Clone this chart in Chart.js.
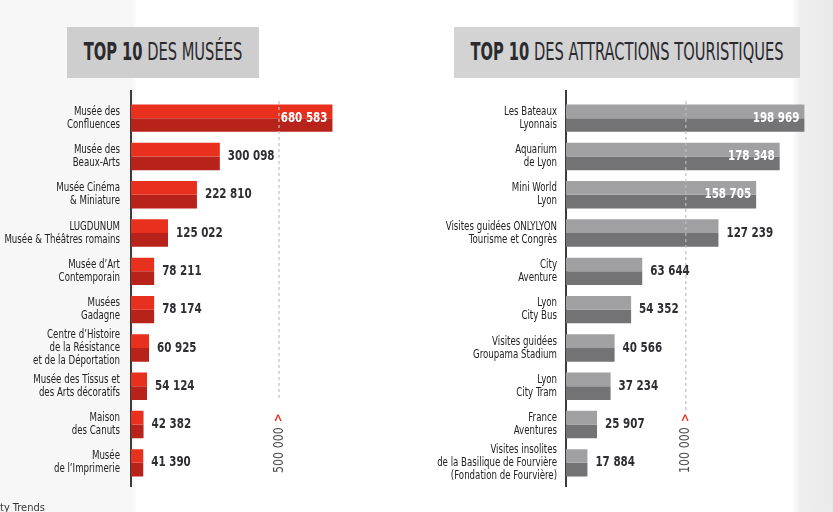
<!DOCTYPE html>
<html>
<head>
<meta charset="utf-8">
<script src="https://cdn.jsdelivr.net/npm/chart.js@4/dist/chart.umd.min.js"></script>
<style>
  html, body { margin: 0; padding: 0; }
  body {
    width: 833px; height: 512px; position: relative; overflow: hidden;
    background: linear-gradient(to right, #f7f7f7 0px, #f7f7f7 134px, #ffffff 136px, #ffffff 792px, #efefef 800px, #e9e9e9 833px);
    font-family: "DejaVu Sans Condensed", sans-serif;
  }
  .title {
    position: absolute; top: 27px; height: 51px; line-height: 51px;
    color: #2a2a2f; font-size: 24px; white-space: nowrap;
  }
  .title span.inner {
    position: absolute; left: 50%; top: 0;
    transform: translateX(-50%) scaleX(0.68);
  }
  .title b { font-weight: bold; }
  #t1 { left: 67px; width: 192px; background: #cecece; }
  #t2 { left: 454px; width: 346px; background: #d3d3d3; }
  .chart { position: absolute; top: 0; height: 512px; }
  #c1wrap { left: 0; width: 420px; }
  #c2wrap { left: 420px; width: 413px; }
  #source { position: absolute; left: 0; top: 501px; font-size: 11px; color: #333; }
</style>
</head>
<body>
<div class="title" id="t1"><span class="inner"><b>TOP 10</b> DES MUSÉES</span></div>
<div class="title" id="t2"><span class="inner"><b>TOP 10</b> DES ATTRACTIONS TOURISTIQUES</span></div>
<div class="chart" id="c1wrap"><canvas id="museesChart"></canvas></div>
<div class="chart" id="c2wrap"><canvas id="attractionsChart"></canvas></div>
<div id="source">ty Trends</div>
<script>
// Top 10 des musées
const museeLabels = [
  ["Musée des", "Confluences"],
  ["Musée des", "Beaux-Arts"],
  ["Musée Cinéma", "& Miniature"],
  ["LUGDUNUM", "Musée & Théâtres romains"],
  ["Musée d’Art", "Contemporain"],
  ["Musées", "Gadagne"],
  ["Centre d’Histoire", "de la Résistance", "et de la Déportation"],
  ["Musée des Tissus et", "des Arts décoratifs"],
  ["Maison", "des Canuts"],
  ["Musée", "de l’Imprimerie"],
];
const museeValues = [680583, 300098, 222810, 125022, 78211, 78174, 60925, 54124, 42382, 41390];
const museeRef = 500000;

// Top 10 des attractions touristiques
const attractionLabels = [
  ["Les Bateaux", "Lyonnais"],
  ["Aquarium", "de Lyon"],
  ["Mini World", "Lyon"],
  ["Visites guidées ONLYLYON", "Tourisme et Congrès"],
  ["City", "Aventure"],
  ["Lyon", "City Bus"],
  ["Visites guidées", "Groupama Stadium"],
  ["Lyon", "City Tram"],
  ["France", "Aventures"],
  ["Visites insolites", "de la Basilique de Fourvière", "(Fondation de Fourvière)"],
];
const attractionValues = [198969, 178348, 158705, 127239, 63644, 54352, 40566, 37234, 25907, 17884];
const attractionRef = 100000;

const condensed = '"DejaVu Sans Condensed", "DejaVu Sans", sans-serif';

function formatNumber(v) {
  return String(v).replace(/\B(?=(\d{3})+(?!\d))/g, " ");
}

// the source font is a narrow DIN-like face, squeeze the text a bit
function narrowText(ctx, text, x, y, align, sx) {
  ctx.save();
  ctx.translate(x, y);
  ctx.scale(sx, 1);
  ctx.textAlign = align;
  ctx.fillText(text, 0, 0);
  ctx.restore();
}

// axis line, category labels, dashed reference line + rotated label, value labels
const decorPlugin = {
  id: "decor",
  beforeDatasetsDraw(chart, args, opts) {
    const ctx = chart.ctx;
    const area = chart.chartArea;
    ctx.save();
    ctx.strokeStyle = "#3c3c3c";
    ctx.lineWidth = 2;
    ctx.beginPath();
    ctx.moveTo(area.left, 90);
    ctx.lineTo(area.left, 487);
    ctx.stroke();

    // category labels, placed on the y scale ticks
    const yScale = chart.scales.y;
    ctx.fillStyle = "#222";
    ctx.font = "12px " + condensed;
    ctx.textBaseline = "middle";
    chart.data.labels.forEach((lines, i) => {
      const yc = yScale.getPixelForTick(i);
      const y0 = yc - ((lines.length - 1) * 13) / 2;
      lines.forEach((line, j) => {
        narrowText(ctx, line, area.left - opts.tickPad, y0 + j * 13, "right", 0.8);
      });
    });
    ctx.restore();
  },
  afterDatasetsDraw(chart, args, opts) {
    const ctx = chart.ctx;
    const area = chart.chartArea;
    const x = chart.scales.x.getPixelForValue(opts.refValue);

    // dashed line
    ctx.save();
    ctx.strokeStyle = "rgba(190,190,190,0.8)";
    ctx.lineWidth = 1.5;
    ctx.setLineDash([3, 3]);
    ctx.beginPath();
    ctx.moveTo(x, area.top + 2);
    ctx.lineTo(x, opts.lineEnd);
    ctx.stroke();
    ctx.restore();

    // rotated reference label
    ctx.save();
    ctx.translate(x, 473);
    ctx.rotate(-Math.PI / 2);
    ctx.scale(0.88, 1);
    ctx.font = "14px " + condensed;
    ctx.textAlign = "left";
    ctx.textBaseline = "middle";
    const txt = formatNumber(opts.refValue);
    ctx.fillStyle = "#4a4a4a";
    ctx.fillText(txt, 0, 0);
    const w = ctx.measureText(txt).width;
    ctx.fillStyle = "#e8301f";
    ctx.font = "bold 13px " + condensed;
    ctx.fillText(">", w + 6, 0);
    ctx.restore();

    // value labels
    const top = chart.getDatasetMeta(0).data;
    const bottom = chart.getDatasetMeta(1).data;
    const values = chart.data.datasets[0].data;
    ctx.save();
    ctx.font = "bold 14px " + condensed;
    ctx.textBaseline = "middle";
    top.forEach((bar, i) => {
      const y = (bar.y + bottom[i].y) / 2;
      const len = bar.x - area.left;
      if (len > 170) {
        ctx.fillStyle = "#ffffff";
        narrowText(ctx, formatNumber(values[i]), bar.x - 5, y, "right", 0.82);
      } else {
        ctx.fillStyle = "#2e2e33";
        narrowText(ctx, formatNumber(values[i]), bar.x + 8, y, "left", 0.82);
      }
    });
    ctx.restore();
  },
};

function makeChart(id, labels, values, colors, opts) {
  return new Chart(document.getElementById(id), {
    type: "bar",
    data: {
      labels: labels,
      datasets: [
        { data: values, backgroundColor: colors[0] },
        { data: values, backgroundColor: colors[1] },
      ],
    },
    options: {
      indexAxis: "y",
      responsive: true,
      maintainAspectRatio: false,
      animation: false,
      categoryPercentage: 0.715,
      barPercentage: 1,
      layout: { padding: { top: 99, bottom: 30, left: 0, right: opts.padRight } },
      plugins: {
        legend: { display: false },
        tooltip: { enabled: false },
        decor: { refValue: opts.refValue, lineEnd: opts.lineEnd, tickPad: opts.tickPad },
      },
      scales: {
        x: { display: false, min: 0, max: opts.max },
        y: {
          grid: { display: false },
          border: { display: false },
          ticks: { display: false, autoSkip: false },
          afterFit: function (scale) {
            scale.width = opts.axisWidth;
          },
        },
      },
    },
    plugins: [decorPlugin],
  });
}

makeChart("museesChart", museeLabels, museeValues, ["#e8301f", "#b7231a"], {
  max: 800000, padRight: 52.2, axisWidth: 131, tickPad: 11, refValue: museeRef, lineEnd: 398,
});
makeChart("attractionsChart", attractionLabels, attractionValues, ["#a0a0a2", "#737375"], {
  max: 220000, padRight: 3.4, axisWidth: 146, tickPad: 9, refValue: attractionRef, lineEnd: 410,
});
</script>
</body>
</html>
